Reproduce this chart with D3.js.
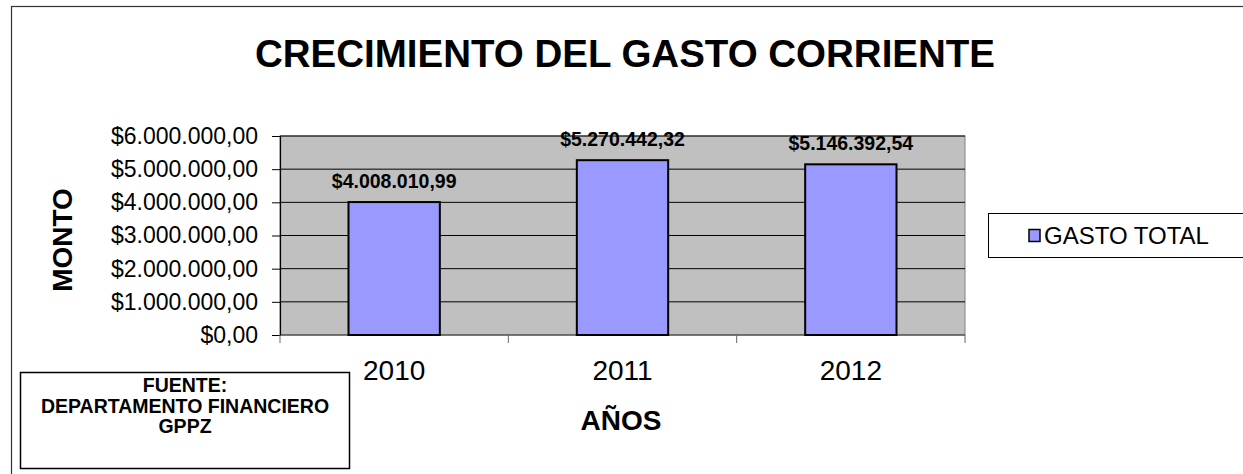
<!DOCTYPE html>
<html>
<head>
<meta charset="utf-8">
<script src="https://cdn.jsdelivr.net/npm/d3@7"></script>
<style>
  body { margin: 0; background: #fff; }
  text { font-family: Arial, "Liberation Sans", sans-serif; }
</style>
</head>
<body>
<div id="chart"></div>
<script>
// datos
const years = ["2010", "2011", "2012"];
const gasto = [4008010.99, 5270442.32, 5146392.54];
const yTicks = [0, 1000000, 2000000, 3000000, 4000000, 5000000, 6000000];
const seriesName = "GASTO TOTAL";
const fuente = ["FUENTE:", "DEPARTAMENTO FINANCIERO", "GPPZ"];

const W = 1243, H = 474;
const plot = { left: 280, right: 965, top: 136, bottom: 335 };

// formato $1.234.567,89
const fmt = v => "$" + d3.format(",.2f")(v).replace(/,/g, "#").replace(/\./g, ",").replace(/#/g, ".");

const svg = d3.select("#chart").append("svg")
    .attr("width", W)
    .attr("height", H);

// marco exterior
svg.append("rect")
    .attr("x", 11.5).attr("y", 6.5)
    .attr("width", W + 20).attr("height", H + 20)
    .attr("fill", "none").attr("stroke", "#333").attr("stroke-width", 1.2);

// título
svg.append("text")
    .attr("x", 625).attr("y", 67)
    .attr("text-anchor", "middle")
    .style("font-size", "38.5px").style("font-weight", "bold")
    .text("CRECIMIENTO DEL GASTO CORRIENTE");

const x = d3.scaleBand()
    .domain(years)
    .range([plot.left, plot.right])
    .paddingInner(0.6).paddingOuter(0.3);

const xTick = d3.scaleLinear().domain([0, years.length]).range([plot.left, plot.right]);

const y = d3.scaleLinear()
    .domain([0, 6000000])
    .range([plot.bottom, plot.top]);

// fondo gris
svg.append("rect")
    .attr("x", plot.left).attr("y", plot.top)
    .attr("width", plot.right - plot.left).attr("height", plot.bottom - plot.top)
    .attr("fill", "#c0c0c0")
    .attr("stroke", "#808080").attr("stroke-width", 1);

// líneas de división
svg.append("g")
    .selectAll("line")
    .data(yTicks.slice(1))
    .join("line")
    .attr("x1", plot.left).attr("x2", plot.right)
    .attr("y1", d => y(d)).attr("y2", d => y(d))
    .attr("stroke", "#000").attr("stroke-width", 1);

// eje Y
const yAxis = svg.append("g")
    .attr("transform", `translate(${plot.left},0)`)
    .call(d3.axisLeft(y).tickValues(yTicks).tickFormat(fmt).tickSize(8).tickPadding(14));
yAxis.select(".domain").attr("stroke", "#000").attr("stroke-width", 1.2);
yAxis.selectAll(".tick line").attr("stroke", "#000");
yAxis.selectAll("text")
    .style("font-size", "23px")
    .style("font-family", "Arial, 'Liberation Sans', sans-serif")
    .attr("fill", "#000");

// eje X
svg.append("line")
    .attr("x1", plot.left).attr("x2", plot.right)
    .attr("y1", plot.bottom).attr("y2", plot.bottom)
    .attr("stroke", "#333").attr("stroke-width", 1.2);
svg.append("g")
    .selectAll("line")
    .data(d3.range(years.length + 1))
    .join("line")
    .attr("x1", d => xTick(d)).attr("x2", d => xTick(d))
    .attr("y1", plot.bottom).attr("y2", plot.bottom + 8)
    .attr("stroke", "#666");

svg.append("g")
    .selectAll("text")
    .data(years)
    .join("text")
    .attr("x", d => x(d) + x.bandwidth() / 2)
    .attr("y", 380)
    .attr("text-anchor", "middle")
    .style("font-size", "28px")
    .text(d => d);

// barras
svg.append("g")
    .selectAll("rect")
    .data(gasto)
    .join("rect")
    .attr("x", (d, i) => x(years[i]))
    .attr("y", d => y(d))
    .attr("width", x.bandwidth())
    .attr("height", d => y(0) - y(d))
    .attr("fill", "#9999ff")
    .attr("stroke", "#000").attr("stroke-width", 2);

// etiquetas de valores
svg.append("g")
    .selectAll("text")
    .data(gasto)
    .join("text")
    .attr("x", (d, i) => x(years[i]) + x.bandwidth() / 2)
    .attr("y", d => y(d) - 14)
    .attr("text-anchor", "middle")
    .style("font-size", "19.5px").style("font-weight", "bold")
    .text(d => fmt(d));

// títulos de ejes
svg.append("text")
    .attr("transform", "translate(72,240) rotate(-90)")
    .attr("text-anchor", "middle")
    .style("font-size", "28px").style("font-weight", "bold")
    .text("MONTO");

svg.append("text")
    .attr("x", 621).attr("y", 430)
    .attr("text-anchor", "middle")
    .style("font-size", "28px").style("font-weight", "bold")
    .text("AÑOS");

// leyenda
const legend = svg.append("g").attr("transform", "translate(988,213)");
legend.append("rect")
    .attr("x", 0.5).attr("y", 0.5)
    .attr("width", 270).attr("height", 44)
    .attr("fill", "#fff").attr("stroke", "#000").attr("stroke-width", 1);
legend.append("rect")
    .attr("x", 41).attr("y", 16.5)
    .attr("width", 11).attr("height", 12)
    .attr("fill", "#9999ff").attr("stroke", "#000").attr("stroke-width", 1.5);
legend.append("text")
    .attr("x", 56).attr("y", 31)
    .style("font-size", "24px")
    .text(seriesName);

// fuente
const src = svg.append("g").attr("transform", "translate(20,372)");
src.append("rect")
    .attr("x", 0.5).attr("y", 0.5)
    .attr("width", 329).attr("height", 96)
    .attr("fill", "#fff").attr("stroke", "#000").attr("stroke-width", 1.5);
src.selectAll("text.f")
    .data(fuente)
    .join("text")
    .attr("class", "f")
    .attr("x", 165)
    .attr("y", (d, i) => 20 + i * 20.5)
    .attr("text-anchor", "middle")
    .style("font-size", "19.5px").style("font-weight", "bold")
    .text(d => d);
</script>
</body>
</html>
